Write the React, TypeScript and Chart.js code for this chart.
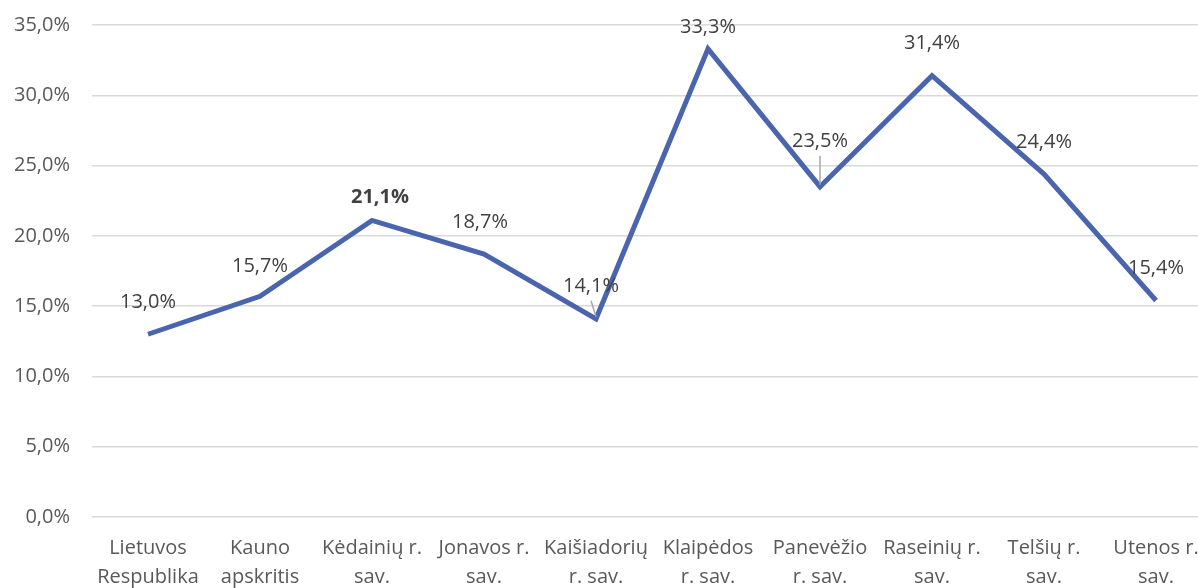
import React, { useEffect, useRef } from "react";
import { Chart, registerables } from "chart.js";

Chart.register(...registerables);

const categories: string[][] = [
  ["Lietuvos", "Respublika"],
  ["Kauno", "apskritis"],
  ["Kėdainių r.", "sav."],
  ["Jonavos r.", "sav."],
  ["Kaišiadorių", "r. sav."],
  ["Klaipėdos", "r. sav."],
  ["Panevėžio", "r. sav."],
  ["Raseinių r.", "sav."],
  ["Telšių r.", "sav."],
  ["Utenos r.", "sav."],
];

const values: number[] = [13.0, 15.7, 21.1, 18.7, 14.1, 33.3, 23.5, 31.4, 24.4, 15.4];

const boldLabels: boolean[] = [false, false, true, false, false, false, false, false, false, false];

// label placement tweaks (pixels), presentation only
const labelLift: number[] = [32, 30, 23, 32, 32, 22, 45, 32, 32, 32];
const labelShift: number[] = [0, 0, 8, -4, -5, 0, 0, 0, 0, 0];
const leaderLine: boolean[] = [false, false, false, false, true, false, true, false, false, false];

const fmt = (v: number) => v.toFixed(1).replace(".", ",") + "%";
const FONT = "'Open Sans', 'Noto Sans', sans-serif";

const labelPlugin = {
  id: "valueLabels",
  afterDatasetsDraw(chart: any) {
    const ctx = chart.ctx;
    const meta = chart.getDatasetMeta(0);
    ctx.save();
    meta.data.forEach((pt: any, i: number) => {
      const x = pt.x + labelShift[i];
      const y = pt.y - labelLift[i];
      if (leaderLine[i]) {
        ctx.strokeStyle = "#a6a6a6";
        ctx.lineWidth = 1.5;
        ctx.beginPath();
        ctx.moveTo(x, y + 14);
        ctx.lineTo(pt.x, pt.y - 2);
        ctx.stroke();
      }
      ctx.font = `${boldLabels[i] ? "bold " : ""}20px ${FONT}`;
      ctx.fillStyle = "#404040";
      ctx.textAlign = "center";
      ctx.textBaseline = "middle";
      ctx.fillText(fmt(values[i]), x, y);
    });
    ctx.restore();
  },
};

export default function App() {
  const ref = useRef<HTMLCanvasElement>(null);

  useEffect(() => {
    document.body.style.margin = "0";
    document.documentElement.style.overflow = "hidden";
    document.body.style.overflow = "hidden";
    if (!ref.current) return;
    const chart = new Chart(ref.current, {
      type: "line",
      data: {
        labels: categories,
        datasets: [
          {
            data: values,
            borderColor: "#4a65ad",
            borderWidth: 5,
            pointRadius: 0,
            tension: 0,
            fill: false,
          },
        ],
      },
      options: {
        animation: false,
        responsive: false,
        maintainAspectRatio: false,
        layout: { padding: { top: 25, left: 0, right: 0, bottom: 0 } },
        plugins: { legend: { display: false }, tooltip: { enabled: false } },
        scales: {
          x: {
            offset: true,
            grid: { display: false },
            border: { display: false },
            ticks: {
              color: "#595959",
              font: { family: FONT, size: 20, lineHeight: 1.45 },
              padding: 9,
              maxRotation: 0,
              autoSkip: false,
            },
            afterFit: (s: any) => {
              s.height = 71;
              s.paddingLeft = 0;
              s.paddingRight = 0;
            },
          },
          y: {
            min: 0,
            max: 35,
            border: { display: false },
            grid: { color: "#d9d9d9", lineWidth: 1.5, drawTicks: false },
            ticks: {
              stepSize: 5,
              color: "#595959",
              font: { family: FONT, size: 20 },
              padding: 22,
              callback: (v: any) => fmt(Number(v)),
            },
            afterFit: (s: any) => {
              s.width = 92;
              s.paddingTop = 0;
              s.paddingBottom = 0;
            },
          },
        },
      },
      plugins: [labelPlugin],
    });
    return () => chart.destroy();
  }, []);

  return (
    <div style={{ width: 1212, height: 588, overflow: "hidden" }}>
      <canvas ref={ref} width={1212} height={588} style={{ display: "block" }} />
    </div>
  );
}
